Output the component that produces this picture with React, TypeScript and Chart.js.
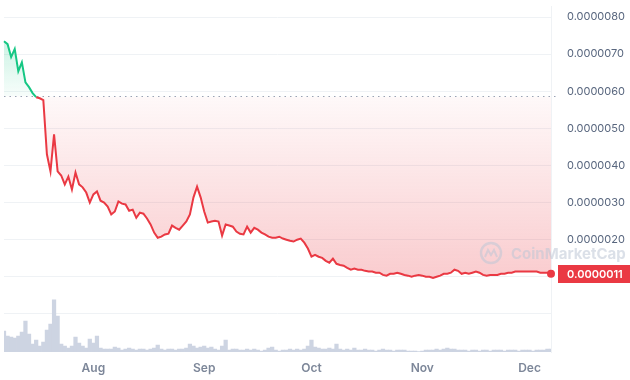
import React, { useEffect, useRef } from 'react';
import { Chart, registerables } from 'chart.js';

Chart.register(...registerables);

// ---- data ----
const START_DATE = '2023-07-07';
const MONTHS = ['Jan', 'Feb', 'Mar', 'Apr', 'May', 'Jun', 'Jul', 'Aug', 'Sep', 'Oct', 'Nov', 'Dec'];

const PRICES = [
  7.35e-6, 7.27e-6, 6.92e-6, 7.14e-6, 6.54e-6, 6.78e-6, 6.24e-6, 6.11e-6, 5.95e-6, 5.84e-6,
  5.81e-6, 5.76e-6, 4.30e-6, 3.84e-6, 4.84e-6, 3.84e-6, 3.73e-6, 3.49e-6, 3.70e-6, 3.35e-6,
  3.81e-6, 3.49e-6, 3.41e-6, 3.27e-6, 3.00e-6, 3.22e-6, 3.30e-6, 3.05e-6, 3.00e-6, 2.89e-6,
  2.68e-6, 2.76e-6, 3.03e-6, 2.97e-6, 2.95e-6, 2.78e-6, 2.81e-6, 2.59e-6, 2.73e-6, 2.70e-6,
  2.57e-6, 2.41e-6, 2.19e-6, 2.05e-6, 2.08e-6, 2.14e-6, 2.16e-6, 2.38e-6, 2.32e-6, 2.27e-6,
  2.38e-6, 2.49e-6, 2.68e-6, 3.14e-6, 3.43e-6, 3.14e-6, 2.76e-6, 2.46e-6, 2.49e-6, 2.51e-6,
  2.49e-6, 2.11e-6, 2.41e-6, 2.38e-6, 2.35e-6, 2.22e-6, 2.16e-6, 2.14e-6, 2.35e-6, 2.19e-6,
  2.32e-6, 2.27e-6, 2.19e-6, 2.14e-6, 2.08e-6, 2.05e-6, 2.05e-6, 2.08e-6, 2.03e-6, 2.00e-6,
  1.97e-6, 1.95e-6, 2.00e-6, 2.03e-6, 1.92e-6, 1.76e-6, 1.54e-6, 1.59e-6, 1.54e-6, 1.51e-6,
  1.43e-6, 1.38e-6, 1.49e-6, 1.35e-6, 1.32e-6, 1.30e-6, 1.24e-6, 1.19e-6, 1.22e-6, 1.19e-6,
  1.19e-6, 1.16e-6, 1.14e-6, 1.14e-6, 1.11e-6, 1.11e-6, 1.05e-6, 1.03e-6, 1.08e-6, 1.08e-6,
  1.11e-6, 1.08e-6, 1.05e-6, 1.03e-6, 1.00e-6, 1.03e-6, 1.05e-6, 1.03e-6, 1.00e-6, 1.00e-6,
  0.97e-6, 1.00e-6, 1.03e-6, 1.08e-6, 1.08e-6, 1.11e-6, 1.19e-6, 1.16e-6, 1.08e-6, 1.11e-6,
  1.08e-6, 1.11e-6, 1.14e-6, 1.11e-6, 1.05e-6, 1.03e-6, 1.05e-6, 1.05e-6, 1.05e-6, 1.08e-6,
  1.08e-6, 1.11e-6, 1.11e-6, 1.14e-6, 1.14e-6, 1.14e-6, 1.14e-6, 1.14e-6, 1.14e-6, 1.14e-6,
  1.11e-6, 1.11e-6, 1.11e-6, 1.08e-6,
];

const VOLUMES = [
  210000, 160000, 150000, 140000, 160000, 200000, 310000, 180000, 80000, 120000,
  60000, 100000, 220000, 280000, 520000, 360000, 80000, 60000, 40000, 60000,
  150000, 90000, 60000, 40000, 130000, 90000, 160000, 40000, 30000, 30000,
  30000, 50000, 40000, 20000, 30000, 40000, 30000, 20000, 30000, 30000,
  20000, 30000, 40000, 70000, 30000, 20000, 30000, 30000, 20000, 30000,
  30000, 40000, 80000, 60000, 40000, 50000, 60000, 40000, 50000, 30000,
  20000, 60000, 120000, 20000, 30000, 30000, 20000, 20000, 30000, 20000,
  30000, 20000, 10000, 20000, 40000, 50000, 20000, 10000, 20000, 20000,
  30000, 20000, 30000, 20000, 30000, 60000, 120000, 50000, 40000, 30000,
  30000, 40000, 30000, 80000, 30000, 20000, 30000, 20000, 40000, 20000,
  20000, 30000, 20000, 20000, 10000, 20000, 30000, 20000, 20000, 10000,
  20000, 20000, 20000, 10000, 10000, 10000, 5000, 10000, 20000, 20000,
  20000, 30000, 20000, 30000, 40000, 30000, 30000, 20000, 20000, 20000,
  10000, 20000, 20000, 10000, 20000, 20000, 10000, 20000, 20000, 20000,
  10000, 20000, 20000, 20000, 10000, 20000, 20000, 20000, 10000, 20000,
  20000, 20000, 30000, 30000,
];

const OPEN_PRICE = 5.86e-6;
const Y_TICKS = [0, 1e-6, 2e-6, 3e-6, 4e-6, 5e-6, 6e-6, 7e-6, 8e-6];
const Y_MIN = -1.027e-6;
const Y_MAX = 8.281e-6;
const VOL_MAX = 3450000;

const GREEN = '#16c784';
const RED = '#ea3943';

function buildDates(n: number): string[] {
  const out: string[] = [];
  const start = new Date(START_DATE + 'T00:00:00Z');
  for (let i = 0; i < n; i++) {
    const d = new Date(start.getTime() + i * 86400000);
    out.push(d.toISOString().slice(0, 10));
  }
  return out;
}

export default function App() {
  const ref = useRef<HTMLCanvasElement>(null);

  useEffect(() => {
    const canvas = ref.current;
    if (!canvas) return;
    const labels = buildDates(PRICES.length);
    const last = PRICES[PRICES.length - 1];

    const overlay = {
      id: 'cmcOverlay',
      beforeDatasetsDraw(chart: any) {
        const { ctx, chartArea, scales } = chart;
        const y = Math.round(scales.y.getPixelForValue(OPEN_PRICE)) + 0.5;
        ctx.save();
        ctx.setLineDash([1.5, 4]);
        ctx.strokeStyle = '#9aa3b5';
        ctx.lineWidth = 1;
        ctx.beginPath();
        ctx.moveTo(chartArea.left, y);
        ctx.lineTo(chartArea.right + 5, y);
        ctx.stroke();
        ctx.restore();
      },
      afterDatasetsDraw(chart: any) {
        const { ctx, chartArea } = chart;
        const cx = chartArea.right - 60;
        const cy = chartArea.bottom - 99;
        ctx.save();
        ctx.strokeStyle = 'rgba(190,198,214,0.55)';
        ctx.fillStyle = 'rgba(190,198,214,0.55)';
        ctx.lineWidth = 2.5;
        ctx.beginPath();
        ctx.arc(cx, cy, 10, 0, Math.PI * 2);
        ctx.stroke();
        ctx.lineWidth = 2;
        ctx.beginPath();
        ctx.moveTo(cx - 6, cy + 4);
        ctx.lineTo(cx - 3, cy - 3);
        ctx.lineTo(cx, cy + 2);
        ctx.lineTo(cx + 3, cy - 3);
        ctx.lineTo(cx + 6, cy + 4);
        ctx.stroke();
        ctx.font = 'bold 15px Inter';
        ctx.textBaseline = 'middle';
        ctx.textAlign = 'left';
        ctx.fillText('CoinMarketCap', cx + 20, cy + 1);
        ctx.restore();
      },
      afterDraw(chart: any) {
        const { ctx, chartArea, scales, width } = chart;
        const y = scales.y.getPixelForValue(last);
        const x = chartArea.right + 7;
        ctx.save();
        ctx.fillStyle = RED;
        ctx.fillRect(x, Math.round(y) - 9, width - x, 18);
        ctx.fillStyle = '#ffffff';
        ctx.font = '600 11px Inter';
        ctx.textBaseline = 'middle';
        ctx.textAlign = 'left';
        ctx.fillText(last.toFixed(7), chartArea.right + 16, Math.round(y) + 0.5);
        ctx.restore();
      },
    };

    const chart = new Chart(canvas, {
      type: 'line',
      data: {
        labels,
        datasets: [
          {
            type: 'line',
            data: PRICES,
            yAxisID: 'y',
            order: 0,
            borderColor: RED,
            borderWidth: 2,
            pointRadius: (c: any) => (c.dataIndex === PRICES.length - 1 ? 4 : 0),
            pointBackgroundColor: RED,
            pointBorderWidth: 0,
            tension: 0,
            fill: { target: { value: OPEN_PRICE }, above: 'rgba(22,199,132,0.12)', below: 'rgba(234,57,67,0.12)' },
            segment: {
              borderColor: (c: any) => (c.p0.parsed.y >= OPEN_PRICE ? GREEN : RED),
            },
          } as any,
          {
            type: 'bar',
            data: VOLUMES,
            yAxisID: 'vol',
            order: 1,
            backgroundColor: '#cdd4e2',
            barPercentage: 1,
            categoryPercentage: 1,
            borderWidth: 0,
          } as any,
        ],
      },
      options: {
        responsive: false,
        animation: false,
        devicePixelRatio: 1,
        layout: { padding: 0 },
        plugins: { legend: { display: false }, tooltip: { enabled: false } },
        scales: {
          x: {
            type: 'category',
            offset: false,
            grid: { display: false, drawTicks: true, tickLength: 9, offset: false },
            border: { display: false },
            afterFit: (s: any) => { s.height = 28; },
            ticks: {
              autoSkip: false,
              maxRotation: 0,
              minRotation: 0,
              padding: 0,
              color: '#7d8799',
              font: { family: 'Inter', size: 12, weight: '600' },
              callback: function (this: any, v: any) {
                const lab: string = this.getLabelForValue(v);
                if (lab.slice(8, 10) === '01') return MONTHS[parseInt(lab.slice(5, 7), 10) - 1];
                return '';
              },
            },
          },
          y: {
            position: 'right',
            min: Y_MIN,
            max: Y_MAX,
            afterBuildTicks: (s: any) => { s.ticks = Y_TICKS.map((v) => ({ value: v })); },
            afterFit: (s: any) => { s.width = 79; },
            grid: { color: '#eff2f5', drawTicks: true, tickLength: 16, tickColor: 'rgba(0,0,0,0)' },
            border: { display: true, color: '#eff2f5' },
            ticks: {
              padding: 0,
              color: '#58667e',
              font: { family: 'Inter', size: 11 },
              callback: (v: any) => (Number(v) >= 1.5e-6 ? Number(v).toFixed(7) : ''),
            },
          },
          vol: {
            display: false,
            min: 0,
            max: VOL_MAX,
          },
        },
      } as any,
      plugins: [overlay],
    });

    // gradients built from the price scale once the layout is known
    const ys: any = chart.scales.y;
    const g = chart.ctx;
    const basePx = ys.getPixelForValue(OPEN_PRICE);
    const topPx = ys.getPixelForValue(Math.max(...PRICES));
    const lowPx = ys.getPixelForValue(Math.min(...PRICES));
    const green = g.createLinearGradient(0, topPx, 0, basePx);
    green.addColorStop(0, 'rgba(22,199,132,0.22)');
    green.addColorStop(1, 'rgba(22,199,132,0.03)');
    const red = g.createLinearGradient(0, basePx, 0, lowPx);
    red.addColorStop(0, 'rgba(234,57,67,0.03)');
    red.addColorStop(1, 'rgba(234,57,67,0.26)');
    (chart.data.datasets[0] as any).fill = { target: { value: OPEN_PRICE }, above: green, below: red };
    chart.update();

    return () => chart.destroy();
  }, []);

  return (
    <div style={{ position: 'fixed', left: 0, top: 0, width: 630, height: 380, background: '#fff' }}>
      <canvas ref={ref} width={630} height={380} style={{ display: 'block' }} />
    </div>
  );
}
